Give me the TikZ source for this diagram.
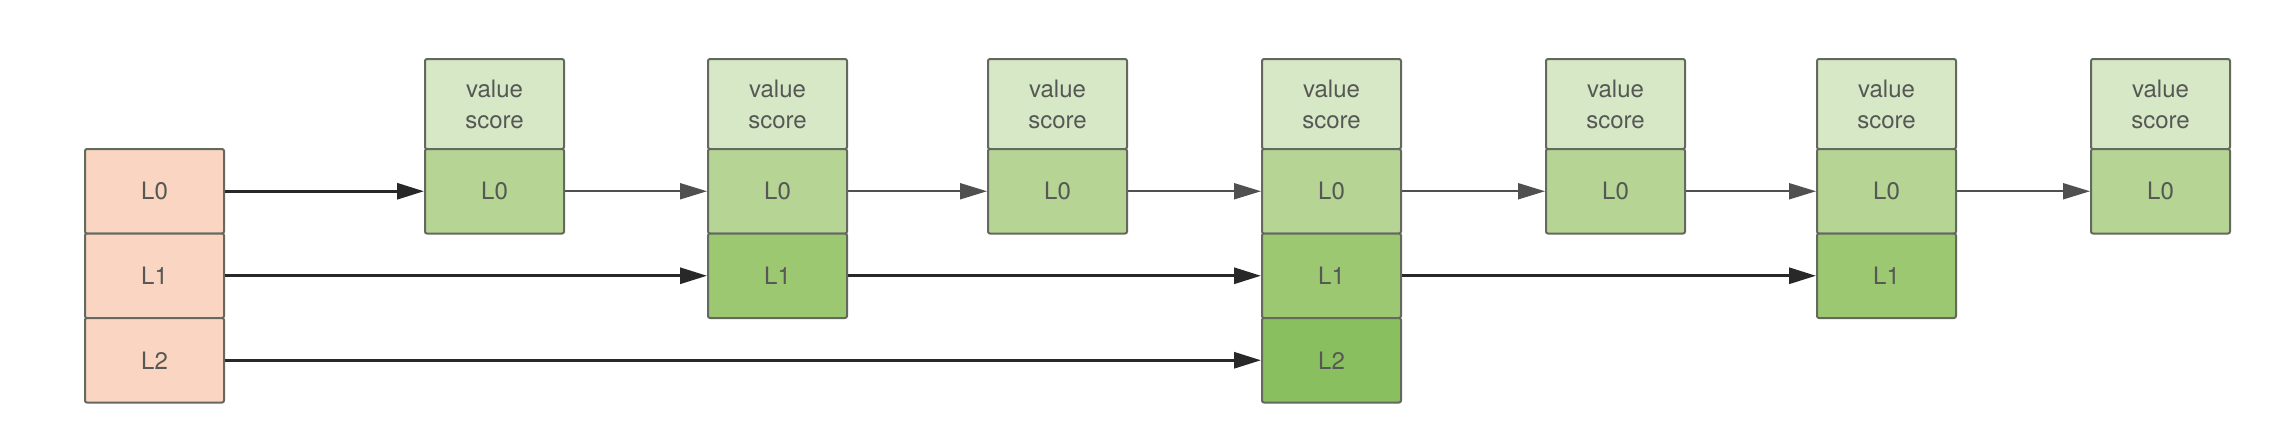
\documentclass[tikz,border=0pt]{standalone}
\usepackage{fontspec}
\setmainfont{TeX Gyre Heros}
\usetikzlibrary{arrows.meta}
\definecolor{hdr}{RGB}{250,214,194}
\definecolor{vsc}{RGB}{214,232,198}
\definecolor{lz}{RGB}{182,213,148}
\definecolor{lo}{RGB}{155,200,113}
\definecolor{lt}{RGB}{138,191,95}
\definecolor{edge}{RGB}{100,105,95}
\definecolor{txt}{RGB}{85,88,84}
\definecolor{thinarr}{RGB}{80,80,80}
\definecolor{thickarr}{RGB}{40,40,40}
\tikzset{
  cell/.style={draw=edge, line width=1pt, rounded corners=1pt, anchor=north west,
    minimum width=69.5pt, text=txt, inner sep=0pt,
    font=\fontsize{12}{15.5}\selectfont, align=center},
  vcell/.style={cell, fill=vsc, minimum height=45pt},
  lcell/.style={cell, minimum height=42.25pt},
  hcell/.style={lcell, fill=hdr},
  zcell/.style={lcell, fill=lz},
  ocell/.style={lcell, fill=lo},
  tcell/.style={lcell, fill=lt},
  tip/.style={-{Triangle[length=13.5pt,width=8pt]}},
  thinlink/.style={tip, draw=thinarr, line width=1pt},
  thicklink/.style={tip, draw=thickarr, line width=1.5pt}
}
\begin{document}
\begin{tikzpicture}[x=0.5pt,y=-0.5pt]
\useasboundingbox (0,0) rectangle (2276,424);
% header
\node[hcell] (h0) at (84,148) {L0};
\node[hcell] (h1) at (84,232.5) {L1};
\node[hcell] (h2) at (84,317) {L2};
% node 1
\node[vcell] (n1v) at (424,58) {value\\score};
\node[zcell] (n1a) at (424,148) {L0};
% node 2
\node[vcell] (n2v) at (707,58) {value\\score};
\node[zcell] (n2a) at (707,148) {L0};
\node[ocell] (n2b) at (707,232.5) {L1};
% node 3
\node[vcell] (n3v) at (987,58) {value\\score};
\node[zcell] (n3a) at (987,148) {L0};
% node 4
\node[vcell] (n4v) at (1261,58) {value\\score};
\node[zcell] (n4a) at (1261,148) {L0};
\node[ocell] (n4b) at (1261,232.5) {L1};
\node[tcell] (n4c) at (1261,317) {L2};
% node 5
\node[vcell] (n5v) at (1545,58) {value\\score};
\node[zcell] (n5a) at (1545,148) {L0};
% node 6
\node[vcell] (n6v) at (1816,58) {value\\score};
\node[zcell] (n6a) at (1816,148) {L0};
\node[ocell] (n6b) at (1816,232.5) {L1};
% node 7
\node[vcell] (n7v) at (2090,58) {value\\score};
\node[zcell] (n7a) at (2090,148) {L0};
% links
\draw[thicklink] (h0.east) -- (n1a.west);
\draw[thicklink] (h1.east) -- (n2b.west);
\draw[thicklink] (h2.east) -- (n4c.west);
\draw[thinlink] (n1a.east) -- (n2a.west);
\draw[thinlink] (n2a.east) -- (n3a.west);
\draw[thinlink] (n3a.east) -- (n4a.west);
\draw[thinlink] (n4a.east) -- (n5a.west);
\draw[thinlink] (n5a.east) -- (n6a.west);
\draw[thinlink] (n6a.east) -- (n7a.west);
\draw[thicklink] (n2b.east) -- (n4b.west);
\draw[thicklink] (n4b.east) -- (n6b.west);
\end{tikzpicture}
\end{document}
